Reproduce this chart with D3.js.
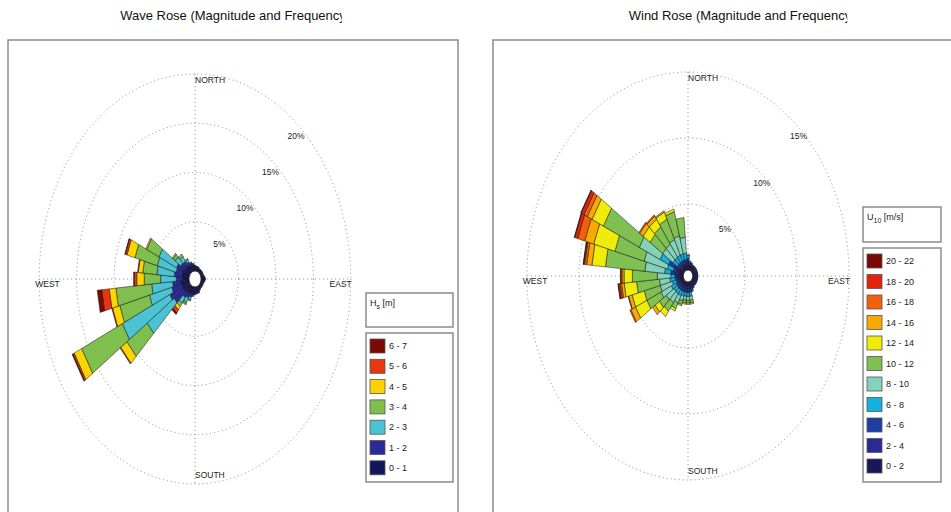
<!DOCTYPE html>
<html lang="en">
<head>
    <meta charset="UTF-8">
    <script src="https://d3js.org/d3.v7.min.js"></script>
    <style>
        body {margin: 0; background-color: #fff}
        svg {display: block; font-family: "Liberation Sans", Arial, sans-serif}
        .ring {fill: none; stroke: #8a8a8a; stroke-width: 1; stroke-dasharray: 1,3}
        .frame {fill: none; stroke: #8c8c8c; stroke-width: 1.5}
        .petal {stroke: #111; stroke-width: 0.5}
    </style>
</head>
<body>
<svg class="chart" width="951" height="512"></svg>
<script>
    // direction bins (degrees, clockwise from north)
    const directions = [0, 10, 20, 30, 40, 50, 60, 70, 80, 90, 100, 110, 120, 130, 140, 150, 160, 170,
        180, 190, 200, 210, 220, 230, 240, 250, 260, 270, 280, 290, 300, 310, 320, 330, 340, 350];

    // wave rose: Hs classes, frequency (%) per direction per class
    const waveClasses = ['0-1', '1-2', '2-3', '3-4', '4-5', '5-6', '6-7'];
    const waveColors = ['#15155a', '#2b2b98', '#4cc3d3', '#7fbf4d', '#fcd400', '#e8360e', '#7a0a05'];
    const waveFreq = [
        [0.5, 0.1], [0.4, 0.1], [0.4, 0.1], [0.3, 0.1], [0.3, 0.1], [0.3, 0.1],
        [0.3, 0.1], [0.3, 0.1], [0.4, 0.1], [0.5, 0.1], [0.4, 0.1], [0.3, 0.1],
        [0.3, 0.1], [0.3, 0.1], [0.3, 0.1], [0.4, 0.1], [0.5, 0.2], [0.5, 0.2],
        [0.6, 0.2], [0.6, 0.3, 0.1], [0.7, 0.4, 0.3, 0.1], [0.8, 0.5, 0.5, 0.2, 0.1],
        [0.8, 0.7, 0.7, 0.4, 0.4, 0.4, 0.2],
        [1.0, 1.6, 4.4, 3.3, 1.0, 0.1, 0],
        [1.1, 1.8, 7.0, 6.0, 1.1, 0.2, 0.1],
        [1.0, 1.4, 3.1, 4.1, 1.0, 0.1, 0],
        [1.1, 1.1, 2.8, 4.8, 0.9, 1.0, 0.6],
        [0.9, 0.8, 2.1, 2.2, 1.0, 0.35, 0.05],
        [1.0, 1.0, 2.3, 1.9, 0.6, 0.1, 0],
        [0.9, 0.9, 2.6, 3.1, 1.1, 0.25, 0.05],
        [1.0, 0.9, 2.6, 1.8, 0.15],
        [0.8, 0.7, 0.9, 0.35, 0.15],
        [0.8, 0.6, 0.6, 0.3],
        [0.7, 0.4, 0.3, 0.1],
        [0.6, 0.3, 0.1],
        [0.6, 0.2]
    ];
    const waveRings = [5, 10, 15, 20];

    // wind rose: U10 classes
    const windClasses = ['0-2', '2-4', '4-6', '6-8', '8-10', '10-12', '12-14', '14-16', '16-18', '18-20', '20-22'];
    const windColors = ['#17175a', '#2c2a92', '#1f3ea2', '#14b0e0', '#84d2bb', '#80c052', '#f0ec0a',
        '#f8aa00', '#f2600e', '#e0240c', '#7a0804'];
    const windFreq = [
        [0.4, 0.3, 0.2, 0.2, 0.1], [0.3, 0.2, 0.1, 0.1], [0.3, 0.2, 0.1], [0.3, 0.15, 0.05],
        [0.3, 0.15, 0.05], [0.3, 0.15, 0.05], [0.3, 0.15, 0.05], [0.3, 0.15, 0.05],
        [0.3, 0.15, 0.05], [0.3, 0.15, 0.05], [0.3, 0.15, 0.05], [0.3, 0.15, 0.05],
        [0.3, 0.15, 0.05], [0.3, 0.15, 0.05], [0.3, 0.15, 0.05], [0.3, 0.2, 0.1],
        [0.3, 0.2, 0.2, 0.1], [0.3, 0.2, 0.3, 0.3, 0.3, 0.2, 0.1],
        [0.3, 0.2, 0.3, 0.3, 0.3, 0.2, 0.1], [0.3, 0.2, 0.3, 0.3, 0.3, 0.2, 0.1],
        [0.3, 0.2, 0.3, 0.3, 0.4, 0.3, 0.1], [0.3, 0.2, 0.3, 0.4, 0.6, 0.5, 0.2],
        [0.3, 0.2, 0.3, 0.4, 0.8, 0.8, 0.5], [0.3, 0.2, 0.3, 0.4, 0.9, 0.8, 0.5, 0.3],
        [0.3, 0.2, 0.3, 0.5, 1.1, 1.5, 1.2, 0.5, 0.1],
        [0.3, 0.2, 0.2, 0.4, 1.2, 1.6, 1.2, 0.35, 0.05],
        [0.3, 0.25, 0.25, 0.5, 1.0, 2.2, 1.2, 0.25, 0.15, 0.15, 0.05],
        [0.3, 0.25, 0.25, 0.4, 1.3, 2.4, 0.8, 0.2, 0.1, 0.05],
        [0.4, 0.4, 0.4, 0.6, 1.9, 3.8, 1.3, 0.5, 0.2, 0.1, 0.05],
        [0.4, 0.3, 0.3, 0.6, 2.3, 2.9, 2.1, 0.9, 0.7, 0.3, 0.05],
        [0.5, 0.5, 0.6, 0.9, 2.2, 3.8, 1.2, 0.5, 0.35, 0.3, 0.05],
        [0.3, 0.2, 0.3, 0.5, 1.2, 1.5, 0.8, 0.4, 0.1],
        [0.3, 0.2, 0.3, 0.5, 1.2, 1.6, 0.7, 0.3, 0.1],
        [0.3, 0.2, 0.3, 0.5, 1.3, 1.7, 0.6, 0.1],
        [0.3, 0.2, 0.3, 0.5, 1.4, 1.9, 0.2],
        [0.3, 0.2, 0.3, 0.5, 1.2, 1.5]
    ];
    const windRings = [5, 10, 15];

    const svg = d3.select('.chart');

    function drawRose(cfg) {
        const g = svg.append('g');
        const r = d3.scaleLinear().domain([0, cfg.maxPct]).range([cfg.r0, cfg.rMax]);
        const rad = d => d * Math.PI / 180;
        const pt = (rr, a) => [cfg.cx + cfg.sx * rr * Math.sin(rad(a)), cfg.cy - rr * Math.cos(rad(a))];
        const R = r(cfg.maxPct);

        // title + frame
        const title = svg.append('text').attr('x', cfg.titleX).attr('y', 20)
            .attr('text-anchor', 'middle').attr('font-size', 13).attr('fill', '#111').text(cfg.title);
        const tl = title.node().getComputedTextLength();
        svg.append('clipPath').attr('id', cfg.id + '-clip').append('rect')
            .attr('x', cfg.titleX - tl / 2 - 2).attr('y', 0).attr('width', tl - 2).attr('height', 30);
        title.attr('clip-path', `url(#${cfg.id}-clip)`);
        svg.append('rect').attr('class', 'frame')
            .attr('x', cfg.box[0]).attr('y', cfg.box[1]).attr('width', cfg.box[2]).attr('height', cfg.box[3]);

        // grid
        cfg.rings.forEach(p => {
            g.append('ellipse').attr('class', 'ring')
                .attr('cx', cfg.cx).attr('cy', cfg.cy).attr('rx', r(p) * cfg.sx).attr('ry', r(p));
        });
        g.append('line').attr('class', 'ring').attr('x1', cfg.cx - R * cfg.sx).attr('x2', cfg.cx + R * cfg.sx)
            .attr('y1', cfg.cy).attr('y2', cfg.cy);
        g.append('line').attr('class', 'ring').attr('x1', cfg.cx).attr('x2', cfg.cx)
            .attr('y1', cfg.cy - R).attr('y2', cfg.cy + R);

        // petals
        const half = cfg.width / 2;
        cfg.dirs.forEach((d, i) => {
            let cum = 0;
            cfg.freq[i].forEach((v, j) => {
                if (v <= 0) return;
                const r1 = r(cum), r2 = r(cum + v);
                cum += v;
                const poly = [pt(r1, d - half), pt(r2, d - half), pt(r2, d + half), pt(r1, d + half)];
                g.append('path').attr('class', 'petal').attr('fill', cfg.colors[j])
                    .attr('d', 'M' + poly.map(p => p.join(',')).join('L') + 'Z');
            });
        });
        g.append('ellipse').attr('cx', cfg.cx).attr('cy', cfg.cy)
            .attr('rx', cfg.r0 * cfg.sx).attr('ry', cfg.r0).attr('fill', '#fff').attr('stroke', '#111').attr('stroke-width', 0.8);

        // labels
        const lab = (x, y, t, anchor) => g.append('text').attr('x', x).attr('y', y).attr('text-anchor', anchor || 'start')
            .attr('font-size', 8.5).attr('fill', '#222').text(t);
        lab(cfg.cx, cfg.cy - R + 9, 'NORTH');
        lab(cfg.cx, cfg.cy + R - 6, 'SOUTH');
        lab(cfg.cx - R * cfg.sx - 4, cfg.cy + 8, 'WEST');
        lab(cfg.cx + R * cfg.sx + 1, cfg.cy + 8, 'EAST', 'end');
        cfg.rings.forEach(p => {
            const q = pt(r(p) - cfg.labOff, cfg.labAngle);
            lab(q[0], q[1] + 3, p + '%', 'middle');
        });

        // legend
        svg.append('rect').attr('class', 'frame').attr('stroke-width', 1)
            .attr('x', cfg.leg[0]).attr('y', cfg.leg[1]).attr('width', cfg.leg[2]).attr('height', cfg.leg[3]);
        const lt = svg.append('text').attr('x', cfg.leg[0] + 4).attr('y', cfg.leg[1] + 13)
            .attr('font-size', 9).attr('fill', '#222');
        lt.append('tspan').text(cfg.unit[0]);
        lt.append('tspan').attr('dy', 3).attr('font-size', 7).text(cfg.unit[1]);
        lt.append('tspan').attr('dy', -3).text(' ' + cfg.unit[2]);
        svg.append('rect').attr('class', 'frame').attr('stroke-width', 1)
            .attr('x', cfg.leg[0]).attr('y', cfg.leg[4]).attr('width', cfg.leg[2]).attr('height', cfg.leg[5]);
        const n = cfg.classes.length;
        cfg.classes.forEach((c, j) => {
            const k = n - 1 - j;
            const y = cfg.leg[4] + 13 + k * cfg.legStep;
            svg.append('rect').attr('x', cfg.leg[0] + 4).attr('y', y - 7).attr('width', 15).attr('height', 14)
                .attr('fill', cfg.colors[j]).attr('stroke', '#555').attr('stroke-width', 0.8);
            svg.append('text').attr('x', cfg.leg[0] + 23).attr('y', y + 3).attr('font-size', 9)
                .attr('fill', '#222').text(c.replace('-', ' - '));
        });
    }

    drawRose({
        id: 'wave', title: 'Wave Rose (Magnitude and Frequency', titleX: 233,
        box: [8, 40, 450, 480], cx: 195, cy: 279, sx: 0.76, r0: 8, rMax: 205, maxPct: 20,
        rings: waveRings, dirs: directions, freq: waveFreq, colors: waveColors, classes: waveClasses,
        width: 10, labOff: 10, labAngle: 43,
        leg: [366, 293, 87, 34, 333, 149], legStep: 20.3, unit: ['H', 's', '[m]']
    });

    drawRose({
        id: 'wind', title: 'Wind Rose (Magnitude and Frequency', titleX: 740,
        box: [493, 40, 470, 480], cx: 688, cy: 276, sx: 0.79, r0: 6, rMax: 204, maxPct: 15,
        rings: windRings, dirs: directions, freq: windFreq, colors: windColors, classes: windClasses,
        width: 10, labOff: 6, labAngle: 45,
        leg: [863, 207, 78, 35, 248, 234], legStep: 20.5, unit: ['U', '10', '[m/s]']
    });
</script>
</body>
</html>
